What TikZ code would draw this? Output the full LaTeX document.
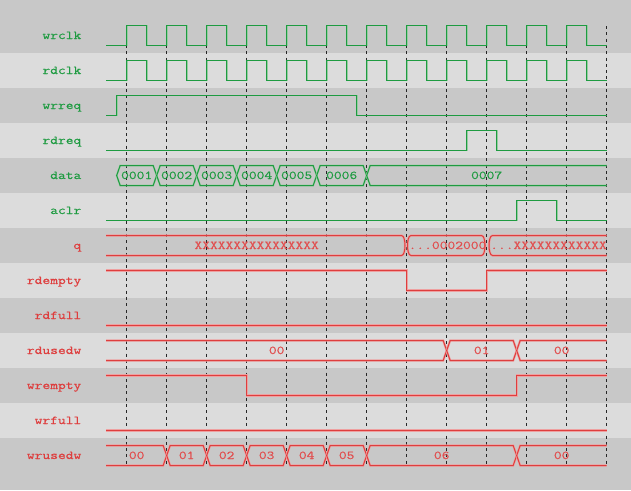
\documentclass[tikz,border=0pt]{standalone}
\usepackage{fontspec}
\newfontfamily\wavefont[FakeStretch=1.257,FakeBold=0.35]{Latin Modern Mono}
\definecolor{bgdark}{RGB}{200,200,200}
\definecolor{bglight}{RGB}{220,220,220}
\definecolor{sigg}{RGB}{30,155,65}
\definecolor{halog}{RGB}{150,205,160}
\definecolor{sigr}{RGB}{222,62,62}
\definecolor{halor}{RGB}{238,160,160}
\def\bhw{3.5}
\newcommand\hexseg[4]{\draw[#4] (#1,#3) -- (#1+\bhw,#3-10) -- (#2-\bhw,#3-10) -- (#2,#3) -- (#2-\bhw,#3+10) -- (#1+\bhw,#3+10) -- cycle;}
\newcommand\leftopen[4]{\draw[#4] (#1,#3-10) -- (#2-\bhw,#3-10) -- (#2,#3) -- (#2-\bhw,#3+10) -- (#1,#3+10);}
\newcommand\rightopen[4]{\draw[#4] (#2,#3-10) -- (#1+\bhw,#3-10) -- (#1,#3) -- (#1+\bhw,#3+10) -- (#2,#3+10);}
\tikzset{
  gsig/.style={draw=sigg, line width=1pt, preaction={draw=halog, line width=1.8pt}},
  rsig/.style={draw=sigr, line width=1pt, preaction={draw=halor, line width=2.2pt}},
  gridline/.style={draw=black!85, line width=0.9pt, dash pattern=on 3pt off 3.3pt},
  lbl/.style={font=\wavefont\fontsize{12}{14}\selectfont, anchor=base east, inner sep=0pt},
  glbl/.style={lbl, text=sigg},
  rlbl/.style={lbl, text=sigr},
  btxt/.style={font=\wavefont\fontsize{12}{14}\selectfont, anchor=base, inner sep=0pt},
  gbtxt/.style={btxt, text=sigg},
  rbtxt/.style={btxt, text=sigr!92!white},
}
\begin{document}
\begin{tikzpicture}[x=1pt,y=-1pt]
\useasboundingbox (0,0) rectangle (631,490);
\fill[bgdark] (0,0) rectangle (631,490);
\foreach \t in {53,123,193,263,333,403} \fill[bglight] (0,\t) rectangle (631,\t+35);
% grid
\foreach \k in {0,...,12} \draw[gridline] (126.67+40*\k,26) -- (126.67+40*\k,465.5);
% labels
\node[glbl] (lwrclk) at (81.5,39) {wrclk};
\node[glbl] (lrdclk) at (81.5,74) {rdclk};
\node[glbl] (lwrreq) at (81.5,109) {wrreq};
\node[glbl] (lrdreq) at (81.5,144) {rdreq};
\node[glbl] (ldata) at (81.5,179) {data};
\node[glbl] (laclr) at (81.5,214) {aclr};
\node[rlbl] (lq) at (81.5,249) {q};
\node[rlbl] (lrdempty) at (81.5,284) {rdempty};
\node[rlbl] (lrdfull) at (81.5,319) {rdfull};
\node[rlbl] (lrdusedw) at (81.5,354) {rdusedw};
\node[rlbl] (lwrempty) at (81.5,389) {wrempty};
\node[rlbl] (lwrfull) at (81.5,424) {wrfull};
\node[rlbl] (lwrusedw) at (81.5,459) {wrusedw};
% clocks
\draw[gsig] (106,45.5) \foreach \k in {0,...,11}{ -- (126.67+40*\k,45.5) -- (126.67+40*\k,25.5) -- (146.67+40*\k,25.5) -- (146.67+40*\k,45.5)} -- (606.67,45.5);
\draw[gsig] (106,80.5) \foreach \k in {0,...,11}{ -- (126.67+40*\k,80.5) -- (126.67+40*\k,60.5) -- (146.67+40*\k,60.5) -- (146.67+40*\k,80.5)} -- (606.67,80.5);
% wrreq
\draw[gsig] (106,115.5) -- (116.67,115.5) -- (116.67,95.5) -- (356.67,95.5) -- (356.67,115.5) -- (606.67,115.5);
% rdreq
\draw[gsig] (106,150.5) -- (466.67,150.5) -- (466.67,130.5) -- (496.67,130.5) -- (496.67,150.5) -- (606.67,150.5);
% data
\hexseg{116.67}{156.67}{175.5}{gsig}
\hexseg{156.67}{196.67}{175.5}{gsig}
\hexseg{196.67}{236.67}{175.5}{gsig}
\hexseg{236.67}{276.67}{175.5}{gsig}
\hexseg{276.67}{316.67}{175.5}{gsig}
\hexseg{316.67}{366.67}{175.5}{gsig}
\rightopen{366.67}{606.67}{175.5}{gsig}
\node[gbtxt] (d1) at (136.67,179) {0001};
\node[gbtxt] (d2) at (176.67,179) {0002};
\node[gbtxt] (d3) at (216.67,179) {0003};
\node[gbtxt] (d4) at (256.67,179) {0004};
\node[gbtxt] (d5) at (296.67,179) {0005};
\node[gbtxt] (d6) at (341.67,179) {0006};
\node[gbtxt] (d7) at (486.67,179) {0007};
% aclr
\draw[gsig] (106,220.5) -- (516.67,220.5) -- (516.67,200.5) -- (556.67,200.5) -- (556.67,220.5) -- (606.67,220.5);
% q
\draw[rsig] (106,235.5) -- (401.5,235.5) .. controls (404,235.5) and (405,241) .. (405,245.5) .. controls (405,250) and (404,255.5) .. (401.5,255.5) -- (106,255.5);
\draw[rsig] (411,235.5) -- (481.5,235.5) .. controls (484,235.5) and (485,241) .. (485,245.5) .. controls (485,250) and (484,255.5) .. (481.5,255.5) -- (411,255.5) .. controls (408.5,255.5) and (407.5,250) .. (407.5,245.5) .. controls (407.5,241) and (408.5,235.5) .. (411,235.5) -- cycle;
\draw[rsig] (606.67,235.5) -- (492.5,235.5) .. controls (490,235.5) and (489,241) .. (489,245.5) .. controls (489,250) and (490,255.5) .. (492.5,255.5) -- (606.67,255.5);
\node[rbtxt] (q1) at (256.67,249) {XXXXXXXXXXXXXXXX};
\node[rbtxt] (q2) at (447.5,249) {...0002000};
\node[rbtxt] (q3) at (548.5,249) {...XXXXXXXXXXXX};
% rdempty
\draw[rsig] (106,270.5) -- (406.67,270.5) -- (406.67,290.5) -- (486.67,290.5) -- (486.67,270.5) -- (606.67,270.5);
% rdfull
\draw[rsig] (106,325.5) -- (606.67,325.5);
% rdusedw
\leftopen{106}{446.67}{350.5}{rsig}
\hexseg{446.67}{516.67}{350.5}{rsig}
\rightopen{516.67}{606.67}{350.5}{rsig}
\node[rbtxt] (ru1) at (276.67,354) {00};
\node[rbtxt] (ru2) at (481.67,354) {01};
\node[rbtxt] (ru3) at (561.67,354) {00};
% wrempty
\draw[rsig] (106,375.5) -- (246.67,375.5) -- (246.67,395.5) -- (516.67,395.5) -- (516.67,375.5) -- (606.67,375.5);
% wrfull
\draw[rsig] (106,430.5) -- (606.67,430.5);
% wrusedw
\leftopen{106}{166.67}{455.5}{rsig}
\hexseg{166.67}{206.67}{455.5}{rsig}
\hexseg{206.67}{246.67}{455.5}{rsig}
\hexseg{246.67}{286.67}{455.5}{rsig}
\hexseg{286.67}{326.67}{455.5}{rsig}
\hexseg{326.67}{366.67}{455.5}{rsig}
\hexseg{366.67}{516.67}{455.5}{rsig}
\rightopen{516.67}{606.67}{455.5}{rsig}
\node[rbtxt] (wu1) at (136.67,459) {00};
\node[rbtxt] (wu2) at (186.67,459) {01};
\node[rbtxt] (wu3) at (226.67,459) {02};
\node[rbtxt] (wu4) at (266.67,459) {03};
\node[rbtxt] (wu5) at (306.67,459) {04};
\node[rbtxt] (wu6) at (346.67,459) {05};
\node[rbtxt] (wu7) at (441.67,459) {06};
\node[rbtxt] (wu8) at (561.67,459) {00};
\end{tikzpicture}
\end{document}
